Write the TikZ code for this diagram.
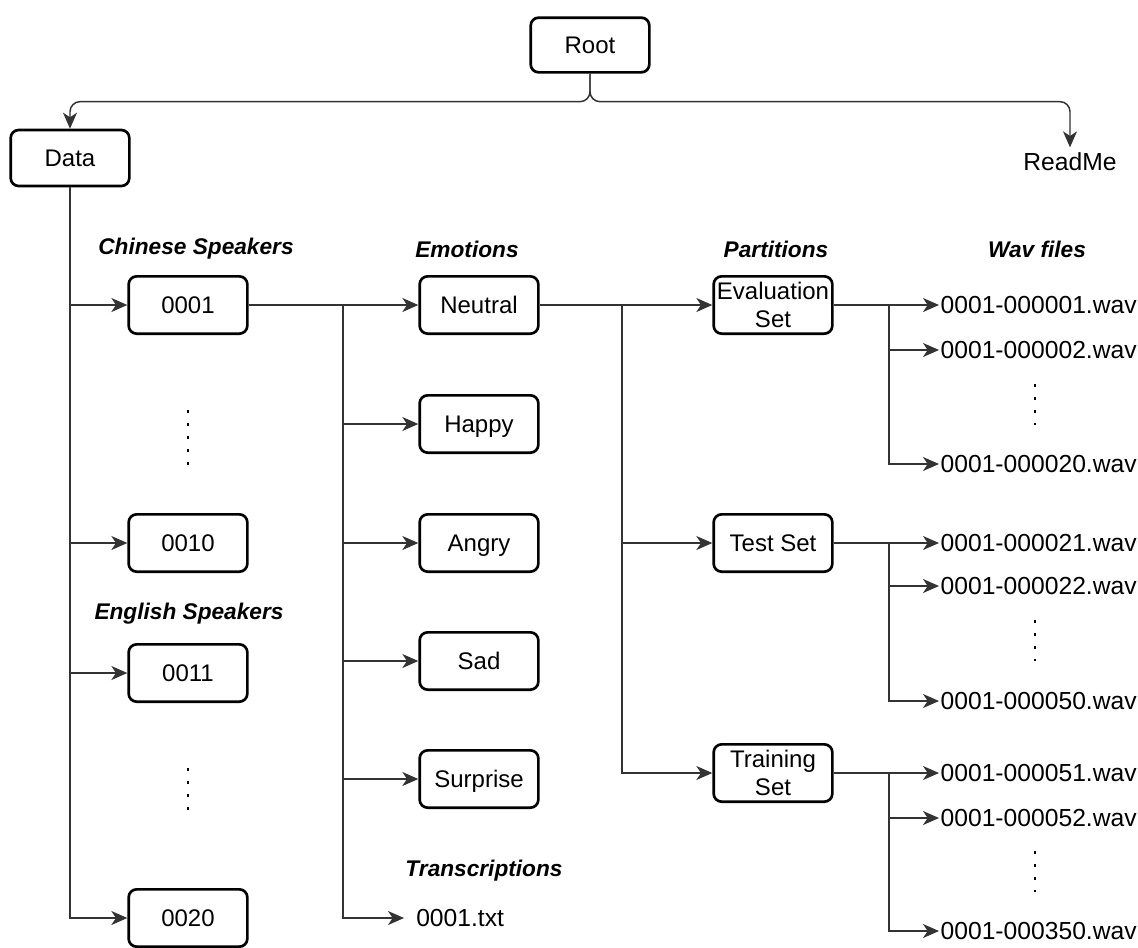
\documentclass[tikz,border=0pt]{standalone}
\usepackage{fontspec}
\setmainfont{Liberation Sans}
\usetikzlibrary{shapes, arrows.meta}
\definecolor{linegray}{HTML}{333333}

\begin{document}
\begin{tikzpicture}[x=0.75pt, y=-0.75pt]

\tikzstyle{connector} = [draw, linegray, line width=1.1pt, -{Stealth[length=12pt, width=10.5pt, inset=3.5pt]}]
\tikzstyle{folder} = [rectangle, draw, line width=2pt, rounded corners=6pt, text centered, align=center, minimum width=89pt, minimum height=43pt, inner sep=1pt, font=\fontsize{18}{21.5}\selectfont]
\tikzstyle{box} = [folder, text height=13pt, text depth=0pt]
\tikzstyle{file} = [inner sep=1pt, anchor=west, font=\fontsize{18.5}{21.5}\selectfont]
\tikzstyle{heading} = [font=\fontsize{17}{20}\selectfont\bfseries\itshape]
\tikzstyle{vdots} = [draw, line width=2.2pt, dash pattern=on 2.2pt off 7.5pt]

\useasboundingbox (0,0) rectangle (1138,947);

\node [box, minimum height=41pt] at (590,45) (root) {Root};
\node [box, minimum height=42pt] at (70,158) (data) {Data};
\node [file, anchor=center, inner sep=4pt] at (1070,162) (readme) {ReadMe};

% headings
\node [heading] at (196,249) (h_chinese) {Chinese Speakers};
\node [heading] at (467,249) (h_emotions) {Emotions};
\node [heading] at (776,249) (h_partitions) {Partitions};
\node [heading] at (1037,249) (h_wav) {Wav files};
\node [heading] at (189,614) (h_english) {English Speakers};
\node [heading] at (484,871) (h_trans) {Transcriptions};

% speakers
\node [box] at (188,305) (s0001) {0001};
\node [box] at (188,543) (s0010) {0010};
\node [box] at (188,673) (s0011) {0011};
\node [box] at (188,918) (s0020) {0020};

% emotions
\node [box] at (479,305) (neutral) {Neutral};
\node [box] at (479,424) (happy) {Happy};
\node [box] at (479,543) (angry) {Angry};
\node [box] at (479,661) (sad) {Sad};
\node [box] at (479,779) (surprise) {Surprise};
\node [file, inner xsep=9pt] at (404,918) (txt) {0001.txt};

% partitions
\node [folder] at (773,305) (eval) {Evaluation\\Set};
\node [box] at (773,543) (test) {Test Set};
\node [folder] at (773,773) (train) {Training\\Set};

% wav files
\node [file] at (939,305) (w1) {0001-000001.wav};
\node [file] at (939,350) (w2) {0001-000002.wav};
\node [file] at (939,464) (w20) {0001-000020.wav};
\node [file] at (939,543) (w21) {0001-000021.wav};
\node [file] at (939,586) (w22) {0001-000022.wav};
\node [file] at (939,701) (w50) {0001-000050.wav};
\node [file] at (939,773) (w51) {0001-000051.wav};
\node [file] at (939,818) (w52) {0001-000052.wav};
\node [file] at (939,931) (w350) {0001-000350.wav};

\coordinate (emo) at (343,305);
\coordinate (part) at (622,305);
\coordinate (evj) at (889,305);
\coordinate (tej) at (889,543);
\coordinate (trj) at (889,773);

\path [connector, rounded corners=7.5pt] (root.south) -- ++(0,28) -| (data.north);
\path [connector, rounded corners=7.5pt] (root.south) -- ++(0,28) -| (readme.north);

\path [connector] (data.south) |- (s0001.west);
\path [connector] (data.south) |- (s0010.west);
\path [connector] (data.south) |- (s0011.west);
\path [connector] (data.south) |- (s0020.west);

\path [connector] (s0001.east) -- (neutral.west);
\path [connector] (emo) |- (happy.west);
\path [connector] (emo) |- (angry.west);
\path [connector] (emo) |- (sad.west);
\path [connector] (emo) |- (surprise.west);
\path [connector] (emo) |- (txt.west);

\path [connector] (neutral.east) -- (eval.west);
\path [connector] (part) |- (test.west);
\path [connector] (part) |- (train.west);

\path [connector] (eval.east) -- (w1.west);
\path [connector] (evj) |- (w2.west);
\path [connector] (evj) |- (w20.west);
\path [connector] (test.east) -- (w21.west);
\path [connector] (tej) |- (w22.west);
\path [connector] (tej) |- (w50.west);
\path [connector] (train.east) -- (w51.west);
\path [connector] (trj) |- (w52.west);
\path [connector] (trj) |- (w350.west);

% dots
\path [vdots] (188,410) -- (188,467);
\path [vdots] (188,768) -- (188,818);
\path [vdots] (1035,384) -- (1035,425);
\path [vdots] (1035,620) -- (1035,661);
\path [vdots] (1035,851) -- (1035,892);

\end{tikzpicture}
\end{document}
